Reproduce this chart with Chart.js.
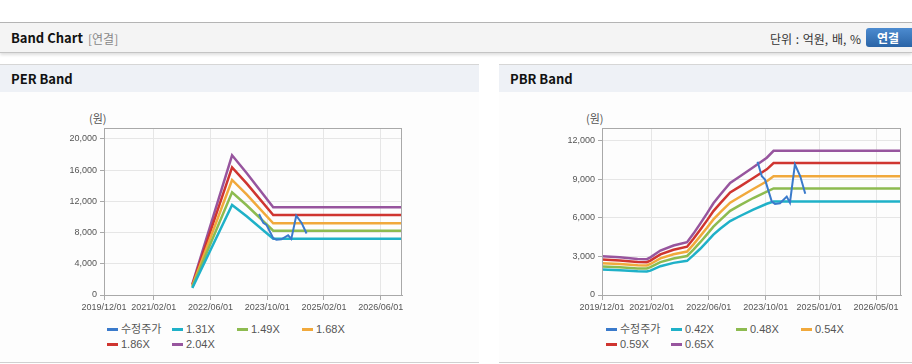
<!DOCTYPE html>
<html><head><meta charset="utf-8">
<script src="https://cdn.jsdelivr.net/npm/chart.js@4/dist/chart.umd.min.js"></script>
<style>
body{margin:0;width:912px;height:364px;overflow:hidden;background:#fff;position:relative;font-family:"Noto Sans CJK KR","Noto Sans",sans-serif;}
.abs{position:absolute;}
.topline{left:0;top:22px;width:912px;height:1px;background:#b5b5b5;}
.header{left:0;top:23px;width:912px;height:29px;background:#f4f4f4;border-bottom:1px solid #c4c4c4;box-shadow:0 2px 3px rgba(0,0,0,0.13);}
.htitle{left:11px;top:29px;font-size:13px;font-weight:bold;color:#111;line-height:18px;}
.hsub{left:88px;top:30px;font-size:12px;color:#888;line-height:17px;}
.unit{left:770px;top:30px;font-size:12px;color:#333;line-height:17px;word-spacing:1px;}
.btn{left:866px;top:28px;width:52px;height:19px;border-radius:3px;background:linear-gradient(#4c8bd0,#2a64a6);color:#fff;font-size:12px;font-weight:bold;line-height:19px;text-indent:11px;}
.panel{top:64px;height:297px;background:#fdfdfd;border-top:1px solid #d6d6d6;border-bottom:1px solid #d0d0d0;}
.ptitle{top:65px;height:27px;background:#eef1f6;}
.ptext{font-size:13px;font-weight:bold;color:#111;line-height:27px;}
.ylab{font-size:11px;color:#555;line-height:14px;}
.legend{font-size:11px;color:#555;}
.li{position:absolute;height:14px;line-height:14px;white-space:nowrap;font-family:"Liberation Sans","Noto Sans CJK KR",sans-serif;}
.li i{display:inline-block;width:11px;height:3px;vertical-align:middle;margin-right:3px;position:relative;top:-1px;}
</style></head>
<body>
<div class="abs topline"></div>
<div class="abs header"></div>
<div class="abs htitle">Band Chart</div>
<div class="abs hsub">[연결]</div>
<div class="abs unit">단위 : 억원, 배, %</div>
<div class="abs btn">연결</div>

<div class="abs panel" style="left:0;width:479px;"></div>
<div class="abs ptitle" style="left:0;width:479px;"><span class="ptext" style="margin-left:11px;">PER Band</span></div>
<div class="abs panel" style="left:499px;width:413px;"></div>
<div class="abs ptitle" style="left:499px;width:413px;"><span class="ptext" style="margin-left:11px;">PBR Band</span></div>

<div class="abs ylab" style="left:89px;top:111px;">(원)</div>
<div class="abs ylab" style="left:586px;top:111px;">(원)</div>

<div class="abs" style="left:0;top:100px;width:479px;height:215px;"><canvas id="per"></canvas></div>
<div class="abs" style="left:499px;top:100px;width:413px;height:215px;"><canvas id="pbr"></canvas></div>
<div class="abs legend" id="perLegend" style="left:107px;top:322px;width:300px;height:40px;"></div>
<div class="abs legend" id="pbrLegend" style="left:606px;top:322px;width:300px;height:40px;"></div>

<script>
// ---- data ----
const perXTickLabels = ['2019/12/01','2021/02/01','2022/06/01','2023/10/01','2025/02/01','2026/06/01'];
const pbrXTickLabels = ['2019/12/01','2021/02/01','2022/06/01','2023/10/01','2025/01/01','2026/05/01'];
const xAxisStart = '2019/12/01';
const xAxisEnd = '2026/12/01';
const perYTicks = [0, 4000, 8000, 12000, 16000, 20000];
const pbrYTicks = [0, 3000, 6000, 9000, 12000];
const perYMax = 21400;
const pbrYMax = 13000;

const perLabels = ['수정주가','1.31X','1.49X','1.68X','1.86X','2.04X'];
const pbrLabels = ['수정주가','0.42X','0.48X','0.54X','0.59X','0.65X'];

// adjusted close price (수정주가)
const priceDates = ['2023/07/22','2023/08/28','2023/09/25','2023/11/22','2023/12/19','2024/02/01','2024/03/28','2024/04/25','2024/06/07','2024/07/22','2024/09/04'];
const priceValues = [10380, 9240, 8980, 7270, 7090, 7140, 7660, 7190, 10170, 9240, 7880];

// PER band
const perBandDates = ['2021/12/28','2022/12/04','2023/04/07','2023/11/22','2026/12/01'];
const per131 = [900, 11540, 10090, 7210, 7210];
const per149 = [1030, 13150, 11500, 8230, 8230];
const per168 = [1160, 14740, 12890, 9190, 9190];
const per186 = [1290, 16360, 14300, 10250, 10250];
const per204 = [1410, 17900, 15640, 11230, 11230];

// PBR band
const pbrBandDates = ['2019/12/01','2020/05/01','2020/10/01','2020/12/19','2021/01/19','2021/04/13','2021/08/04','2021/11/28','2022/01/22','2022/03/19','2022/05/16','2022/07/10','2022/09/07','2022/12/01','2023/02/25','2023/06/16','2023/10/10','2023/12/07','2026/12/01'];
const pbr042 = [1990, 1930, 1840, 1830, 1900, 2240, 2500, 2660, 3100, 3600, 4150, 4700, 5150, 5750, 6150, 6650, 7100, 7270, 7270];
const pbr048 = [2224, 2165, 2069, 2062, 2165, 2557, 2845, 3037, 3532, 4109, 4720, 5320, 5830, 6550, 7000, 7550, 8050, 8292, 8292];
const pbr054 = [2480, 2414, 2307, 2299, 2414, 2851, 3172, 3387, 3939, 4581, 5232, 5883, 6427, 7185, 7650, 8250, 8850, 9245, 9245];
const pbr059 = [2754, 2681, 2562, 2553, 2681, 3166, 3523, 3761, 4374, 5087, 5810, 6533, 7137, 7979, 8455, 9104, 9781, 10266, 10266];
const pbr065 = [3010, 2930, 2800, 2790, 2930, 3460, 3850, 4110, 4780, 5560, 6350, 7140, 7800, 8720, 9240, 9950, 10690, 11220, 11220];

const seriesColors = ['#3a7acb','#1fb1c8','#8dbb50','#f1a93c','#cf3530','#97559e'];

// ---- helpers ----
function toMonths(d){
  const [y,m,dd] = d.split('/').map(Number);
  const [y0,m0] = xAxisStart.split('/').map(Number);
  return (y - y0) * 12 + (m - m0) + (dd - 1) / 30;
}
function pts(dates, vals){ return dates.map((d,i)=>({x: toMonths(d), y: vals[i]})); }

const FONT = '"Liberation Sans", Arial, sans-serif';
const frame = {
  id:'frame',
  afterDraw(chart){
    const a = chart.chartArea, c = chart.ctx;
    c.save(); c.strokeStyle = '#a9a9a9'; c.lineWidth = 1;
    c.strokeRect(Math.round(a.left)+0.5, Math.round(a.top)+0.5, Math.round(a.right-a.left)-1, Math.round(a.bottom-a.top));
    c.restore();
  }
};

function makeChart(id, legendId, labels, series, tickLabels, yTicks, yMax, yW, padRight){
  const xTicks = tickLabels.map(toMonths);
  const datasets = series.map((s,i)=>({
    label: labels[i], data: s,
    borderColor: seriesColors[i], backgroundColor: seriesColors[i],
    borderWidth: i === 0 ? 2 : 2.5, pointRadius: 0, tension: 0, fill: false
  }));
  const chart = new Chart(document.getElementById(id), {
    type: 'line',
    data: { datasets },
    plugins: [frame],
    options: {
      responsive: true, maintainAspectRatio: false, animation: false,
      layout: { padding: { left: 0, top: 28, right: padRight, bottom: 0 } },
      plugins: { legend: { display: false }, tooltip: { enabled: false } },
      scales: {
        x: {
          type: 'linear', min: 0, max: toMonths(xAxisEnd),
          afterBuildTicks: s => { s.ticks = xTicks.map(v => ({ value: v })); },
          afterFit: s => { s.height = 20; },
          ticks: { autoSkip: false, maxRotation: 0, padding: 2, color: '#555', font: { size: 9, family: FONT },
                   callback: (v, i) => tickLabels[i] },
          grid: { color: '#e6e6e6', tickColor: '#a9a9a9', tickLength: 5 },
          border: { color: '#a9a9a9' }
        },
        y: {
          type: 'linear', min: 0, max: yMax,
          afterBuildTicks: s => { s.ticks = yTicks.map(v => ({ value: v })); },
          afterFit: s => { s.width = yW; },
          ticks: { padding: 3, color: '#555', font: { size: 9, family: FONT },
                   callback: v => Number(v).toLocaleString('en-US') },
          grid: { color: '#e6e6e6', tickColor: '#a9a9a9', tickLength: 4 },
          border: { color: '#a9a9a9' }
        }
      }
    }
  });
  const lg = document.getElementById(legendId);
  chart.data.datasets.forEach((ds, i) => {
    const el = document.createElement('div');
    el.className = 'li';
    el.style.left = ((i % 4) * 65) + 'px';
    el.style.top = (Math.floor(i / 4) * 15) + 'px';
    el.innerHTML = '<i style="background:' + ds.borderColor + '"></i>' + ds.label;
    lg.appendChild(el);
  });
  return chart;
}

makeChart('per', 'perLegend', perLabels,
  [pts(priceDates, priceValues), pts(perBandDates, per131), pts(perBandDates, per149),
   pts(perBandDates, per168), pts(perBandDates, per186), pts(perBandDates, per204)],
  perXTickLabels, perYTicks, perYMax, 104, 77);

makeChart('pbr', 'pbrLegend', pbrLabels,
  [pts(priceDates, priceValues), pts(pbrBandDates, pbr042), pts(pbrBandDates, pbr048),
   pts(pbrBandDates, pbr054), pts(pbrBandDates, pbr059), pts(pbrBandDates, pbr065)],
  pbrXTickLabels, pbrYTicks, pbrYMax, 103, 11);
</script>
</body></html>
